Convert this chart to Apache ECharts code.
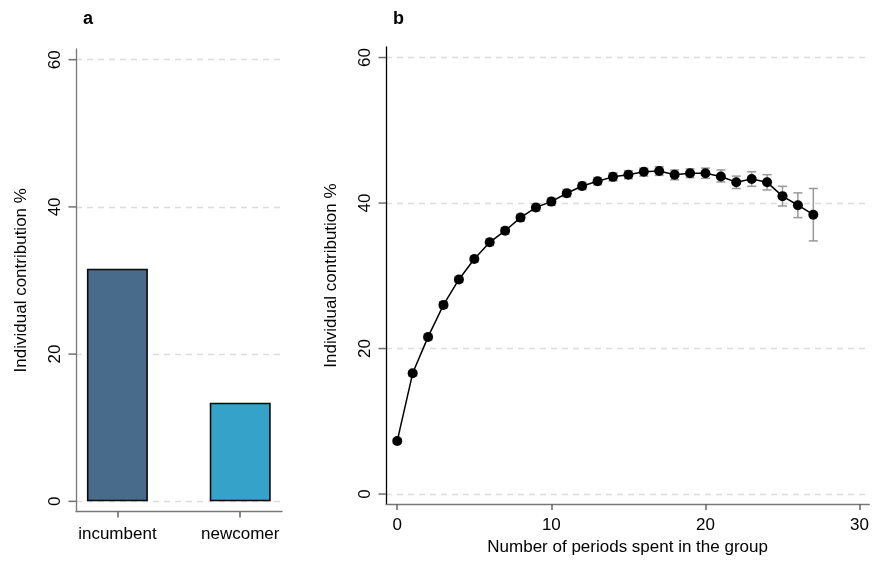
<!DOCTYPE html>
<html>
<head>
<meta charset="utf-8">
<script src="https://cdn.jsdelivr.net/npm/echarts@6/dist/echarts.min.js"></script>
<style>html,body{margin:0;padding:0;background:#fff;}#c{width:872px;height:561px;}</style>
</head>
<body>
<div id="c"></div>
<script>
// Panel a
var groupLabels = ['incumbent', 'newcomer'];
var groupPos = [1, 2];
var groupValues = [31.6, 13.4];
var groupColors = ['#486a8b', '#34a2c9'];
// Panel b
var periods = [0,1,2,3,4,5,6,7,8,9,10,11,12,13,14,15,16,17,18,19,20,21,22,23,24,25,26,27];
var meanContribution = [7.3,16.6,21.6,26.0,29.5,32.3,34.6,36.2,38.0,39.4,40.2,41.35,42.35,43.0,43.6,43.9,44.3,44.4,43.9,44.1,44.1,43.65,42.85,43.3,42.85,40.95,39.7,38.4];
var ciLow = [7.0,16.25,21.2,25.6,29.1,31.9,34.15,35.75,37.55,38.9,39.7,40.85,41.85,42.5,43.05,43.35,43.7,43.8,43.2,43.5,43.4,42.9,42.0,42.3,41.8,39.6,38.0,34.8];
var ciHigh = [7.6,16.95,22.0,26.4,29.9,32.7,35.05,36.65,38.45,39.9,40.7,41.85,42.85,43.5,44.15,44.45,44.8,45.0,44.55,44.7,44.8,44.55,43.7,44.3,43.9,42.3,41.4,42.0];
var yTicks = [0, 20, 40, 60];
var xTicksB = [0, 10, 20, 30];

var FONT = 'Liberation Sans, Arial, sans-serif';
var chart = echarts.init(document.getElementById('c'));

var barData = groupPos.map(function (p, i) {
  return { value: [p, groupValues[i]], itemStyle: { color: groupColors[i] } };
});
var errData = periods.map(function (p, i) { return [p, ciLow[i], ciHigh[i]]; });
var lineData = periods.map(function (p, i) { return [p, meanContribution[i]]; });

var xMinA = 0.663, xMinB = -0.73;

function yAxisCfg(gi, lineColor) {
  return {
    gridIndex: gi, type: 'value', min: -1.38, max: 61.45,
    name: 'Individual contribution %', nameLocation: 'middle', nameGap: 46,
    nameTextStyle: { fontFamily: FONT, fontSize: 17, color: '#000' },
    axisLine: { show: true, onZero: false, lineStyle: { color: lineColor, width: 1.3 } },
    axisTick: { show: false, customValues: yTicks },
    axisLabel: { customValues: yTicks, rotate: 90, margin: 12, fontFamily: FONT, fontSize: 17, color: '#000', align: 'center' },
    splitLine: { show: true, lineStyle: { color: '#dcdcdc', type: [6, 5], width: 1.3 } }
  };
}

chart.setOption({
  animation: false,
  backgroundColor: '#fff',
  title: [
    { text: 'a', left: 78, top: 5, textStyle: { fontFamily: FONT, fontSize: 18, fontWeight: 'bold', color: '#000' } },
    { text: 'b', left: 388, top: 5, textStyle: { fontFamily: FONT, fontSize: 18, fontWeight: 'bold', color: '#000' } }
  ],
  grid: [
    { left: 76, top: 49, width: 206, height: 462.5, containLabel: false },
    { left: 386, top: 47, width: 486, height: 465, containLabel: false }
  ],
  xAxis: [
    {
      gridIndex: 0, type: 'value', min: xMinA, max: 2.34,
      axisLine: { show: true, onZero: false, lineStyle: { color: '#777', width: 1.3 } },
      axisTick: { show: true, length: 6, customValues: groupPos, lineStyle: { color: '#666', width: 1.5 } },
      axisLabel: { customValues: groupPos, margin: 14, fontFamily: FONT, fontSize: 17, color: '#000',
        formatter: function (v) { return groupLabels[groupPos.indexOf(v)] || ''; } },
      splitLine: { show: false }
    },
    {
      gridIndex: 1, type: 'value', min: xMinB, max: 30.63,
      name: 'Number of periods spent in the group', nameLocation: 'middle', nameGap: 31,
      nameTextStyle: { fontFamily: FONT, fontSize: 17, color: '#000' },
      axisLine: { show: true, onZero: false, lineStyle: { color: '#777', width: 1.3 } },
      axisTick: { show: true, length: 6, customValues: xTicksB, lineStyle: { color: '#666', width: 1.5 } },
      axisLabel: { customValues: xTicksB, margin: 13, fontFamily: FONT, fontSize: 17, color: '#000' },
      splitLine: { show: false }
    }
  ],
  yAxis: [yAxisCfg(0, '#777'), yAxisCfg(1, '#000')],
  series: [
    {
      type: 'bar', xAxisIndex: 0, yAxisIndex: 0, barWidth: 61,
      data: barData,
      itemStyle: { borderColor: '#0a0a0a', borderWidth: 1.6 }
    },
    {
      type: 'custom', xAxisIndex: 1, yAxisIndex: 1, z: 2,
      data: errData,
      renderItem: function (params, api) {
        var x = api.value(0);
        var lo = api.coord([x, api.value(1)]);
        var hi = api.coord([x, api.value(2)]);
        var hw = 4.5;
        var st = { stroke: '#999', lineWidth: 1.5, fill: null };
        return {
          type: 'group',
          children: [
            { type: 'line', shape: { x1: lo[0], y1: lo[1], x2: hi[0], y2: hi[1] }, style: st },
            { type: 'line', shape: { x1: lo[0] - hw, y1: lo[1], x2: lo[0] + hw, y2: lo[1] }, style: st },
            { type: 'line', shape: { x1: hi[0] - hw, y1: hi[1], x2: hi[0] + hw, y2: hi[1] }, style: st }
          ]
        };
      }
    },
    {
      type: 'line', xAxisIndex: 1, yAxisIndex: 1, z: 3,
      data: lineData,
      symbol: 'circle', symbolSize: 10,
      itemStyle: { color: '#000' },
      lineStyle: { color: '#000', width: 1.5 }
    }
  ]
});

// y-axis tick marks placed through the library's own coordinate conversion
var tickEls = [];
[[0, xMinA], [1, xMinB]].forEach(function (g) {
  yTicks.forEach(function (t) {
    var p = chart.convertToPixel({ xAxisIndex: g[0], yAxisIndex: g[0] }, [g[1], t]);
    tickEls.push({ type: 'rect', z: 100, silent: true,
      shape: { x: p[0] - 7.5, y: p[1] - 0.75, width: 7.5, height: 1.5 },
      style: { fill: '#707070' } });
  });
});
chart.setOption({ graphic: { elements: tickEls } });
</script>
</body>
</html>
